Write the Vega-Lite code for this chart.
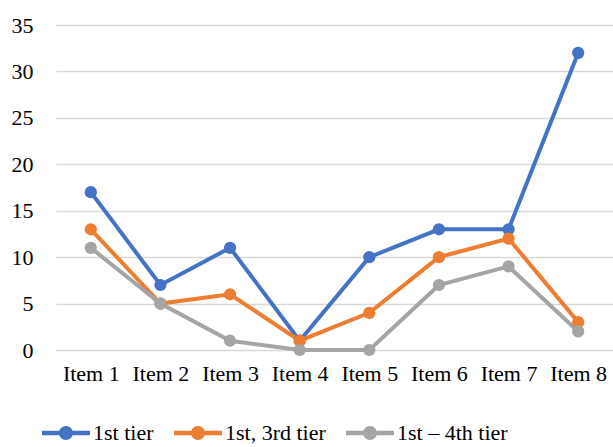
{
  "$schema": "https://vega.github.io/schema/vega-lite/v6.json",
  "width": 557,
  "height": 325,
  "autosize": {"type": "none"},
  "padding": {"left": 56, "top": 25, "right": 0, "bottom": 97},
  "background": "white",
  "config": {
    "view": {"stroke": null},
    "font": "Liberation Serif",
    "axis": {"labelFont": "Liberation Serif", "labelColor": "#000000", "labelFontSize": 22}
  },
  "data": {
    "values": [
      {"item": "Item 1", "series": "1st tier", "value": 17},
      {"item": "Item 2", "series": "1st tier", "value": 7},
      {"item": "Item 3", "series": "1st tier", "value": 11},
      {"item": "Item 4", "series": "1st tier", "value": 1},
      {"item": "Item 5", "series": "1st tier", "value": 10},
      {"item": "Item 6", "series": "1st tier", "value": 13},
      {"item": "Item 7", "series": "1st tier", "value": 13},
      {"item": "Item 8", "series": "1st tier", "value": 32},
      {"item": "Item 1", "series": "1st, 3rd tier", "value": 13},
      {"item": "Item 2", "series": "1st, 3rd tier", "value": 5},
      {"item": "Item 3", "series": "1st, 3rd tier", "value": 6},
      {"item": "Item 4", "series": "1st, 3rd tier", "value": 1},
      {"item": "Item 5", "series": "1st, 3rd tier", "value": 4},
      {"item": "Item 6", "series": "1st, 3rd tier", "value": 10},
      {"item": "Item 7", "series": "1st, 3rd tier", "value": 12},
      {"item": "Item 8", "series": "1st, 3rd tier", "value": 3},
      {"item": "Item 1", "series": "1st – 4th tier", "value": 11},
      {"item": "Item 2", "series": "1st – 4th tier", "value": 5},
      {"item": "Item 3", "series": "1st – 4th tier", "value": 1},
      {"item": "Item 4", "series": "1st – 4th tier", "value": 0},
      {"item": "Item 5", "series": "1st – 4th tier", "value": 0},
      {"item": "Item 6", "series": "1st – 4th tier", "value": 7},
      {"item": "Item 7", "series": "1st – 4th tier", "value": 9},
      {"item": "Item 8", "series": "1st – 4th tier", "value": 2}
    ]
  },
  "mark": {"type": "line", "strokeWidth": 4, "point": {"filled": true, "size": 150, "opacity": 1}},
  "encoding": {
    "x": {
      "field": "item", "type": "nominal", "title": null,
      "scale": {"paddingInner": 0, "paddingOuter": 0.5},
      "axis": {"labelAngle": 0, "ticks": false, "domain": false, "labelPadding": 13}
    },
    "y": {
      "field": "value", "type": "quantitative", "title": null,
      "scale": {"domain": [0, 35], "nice": false},
      "axis": {"values": [0, 5, 10, 15, 20, 25, 30, 35], "ticks": false, "domain": false,
               "gridColor": "#d9d9d9", "gridWidth": 1.5, "labelPadding": 23}
    },
    "color": {
      "field": "series", "type": "nominal", "sort": ["1st tier", "1st, 3rd tier", "1st – 4th tier"],
      "scale": {"domain": ["1st tier", "1st, 3rd tier", "1st – 4th tier"], "range": ["#4472C4", "#ED7D31", "#A5A5A5"]},
      "legend": {
        "title": null, "orient": "none", "direction": "horizontal",
        "legendX": -14, "legendY": 384,
        "symbolType": "M-1,-0.09H1V0.09H-1Z M0.29,0A0.29,0.29 0 1,1 -0.29,0A0.29,0.29 0 1,1 0.29,0Z",
        "symbolSize": 2300, "symbolStrokeWidth": 0, "symbolOpacity": 1,
        "labelFont": "Liberation Serif", "labelFontSize": 22, "labelColor": "#000000",
        "labelOffset": 3, "columnPadding": 20
      }
    },
    "order": {"field": "item"}
  }
}
